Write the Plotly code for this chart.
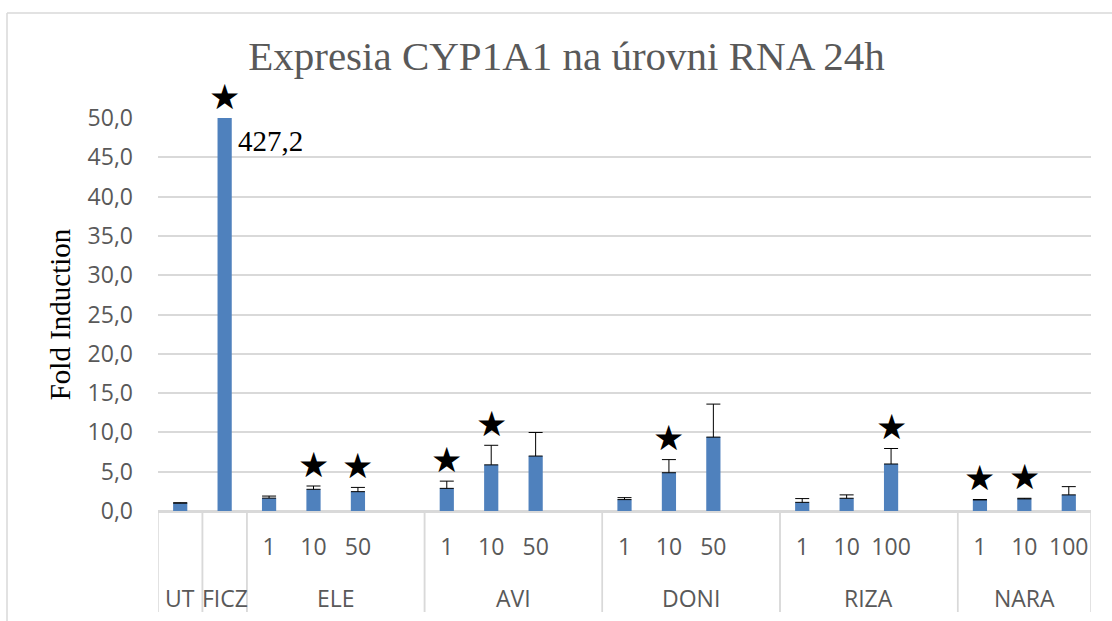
import plotly.graph_objects as go

# ---------------- data ----------------
groups = ["UT", "FICZ", "ELE", "AVI", "DONI", "RIZA", "NARA"]
doses = [[""], [""], ["1", "10", "50", ""], ["1", "10", "50", ""],
         ["1", "10", "50", ""], ["1", "10", "100", ""], ["1", "10", "100"]]
values = [[1.0], [427.2], [1.64, 2.76, 2.46, None], [2.88, 5.87, 6.99, None],
          [1.45, 4.87, 9.40, None], [1.10, 1.62, 5.98, None], [1.41, 1.54, 2.05]]
errors = [[0.05], [0.0], [0.26, 0.42, 0.54, None], [0.92, 2.49, 3.00, None],
          [0.25, 1.67, 4.20, None], [0.48, 0.43, 1.97, None], [0.05, 0.08, 1.05]]
significant = [[False], [True], [False, True, True, False], [True, True, False, False],
               [False, True, False, False], [False, False, True, False], [True, True, False]]
ficz_label = "427,2"
title_text = "Expresia CYP1A1 na úrovni RNA 24h"
y_title = "Fold Induction"

# ---------------- layout constants ----------------
Y_MAX = 50
STAR_OFFSET = 2.6
W, H = 1112, 621
ML, MR, MT, MB = 158, 21, 118, 110
PW, PH = W - ML - MR, H - MT - MB
BLUE = "#4f81bd"
GRID = "#d9d9d9"
GREY_TXT = "#595959"
SANS = "Open Sans"
SERIF = "Liberation Serif"

# flatten
xs, ys, es, labels, stars = [], [], [], [], []
group_bounds = []
i = 0
for g, ds, vs, er, sg in zip(groups, doses, values, errors, significant):
    start = i
    for d, v, e, s in zip(ds, vs, er, sg):
        xs.append(i)
        ys.append(v)
        es.append(e)
        labels.append(d)
        if s:
            top = min((v or 0) + (e or 0), Y_MAX)
            stars.append((i, top + STAR_OFFSET))
        i += 1
    group_bounds.append((g, start - 0.5, i - 0.5))

fig = go.Figure()
fig.add_trace(go.Bar(
    x=xs, y=ys, width=0.32, marker=dict(color=BLUE, line=dict(width=0)),
    error_y=dict(type="data", symmetric=False, array=es,
                 arrayminus=[0] * len(es), color="black", thickness=1, width=7),
    showlegend=False, hoverinfo="skip"))

def py(px_from_top):
    return (H - MB - px_from_top) / PH

def pxx(px):
    return (px - ML) / PW

shapes = []
annotations = []
bottom_div = py(612)
for g, a, b in group_bounds:
    annotations.append(dict(x=(a + b) / 2, y=py(597.5), xref="x", yref="paper",
                            text=g, showarrow=False, yanchor="middle",
                            font=dict(family=SANS, size=23, color=GREY_TXT)))
    for xv in (a, b):
        shapes.append(dict(type="line", xref="x", yref="paper", x0=xv, x1=xv,
                           y0=0, y1=bottom_div, line=dict(color=GRID, width=1.5)))

# significance stars (paper y so that the clipped FICZ star stays visible)
for sx, sy in stars:
    annotations.append(dict(x=sx, y=sy / Y_MAX, xref="x", yref="paper", text="★",
                            showarrow=False, yanchor="middle", xanchor="center",
                            yshift=1,
                            font=dict(family="DejaVu Sans", size=35, color="black")))

# outer chart frame (light border)
shapes.append(dict(type="line", xref="paper", yref="paper", x0=pxx(7), x1=pxx(7),
                   y0=py(13), y1=py(H), line=dict(color=GRID, width=1.5)))
shapes.append(dict(type="line", xref="paper", yref="paper", x0=pxx(7), x1=pxx(W),
                   y0=py(13), y1=py(13), line=dict(color=GRID, width=1.5)))

annotations.append(dict(x=1.25, y=47.1, xref="x", yref="y", text=ficz_label,
                        showarrow=False, xanchor="left", yanchor="middle",
                        font=dict(family=SERIF, size=29, color="black")))

fig.update_layout(
    width=W, height=H,
    margin=dict(l=ML, r=MR, t=MT, b=MB),
    paper_bgcolor="white", plot_bgcolor="white",
    separators=", ",
    title=dict(text=title_text, x=566.5 / W, xref="container", xanchor="center",
               y=1 - 56 / H, yref="container", yanchor="middle",
               font=dict(family=SERIF, size=41, color=GREY_TXT)),
    xaxis=dict(range=[-0.5, len(xs) - 0.5], tickvals=xs, ticktext=labels,
               showgrid=False, zeroline=False, showline=True, linecolor=GRID,
               linewidth=1.5, ticks="", ticklabelstandoff=15,
               tickfont=dict(family=SANS, size=23, color=GREY_TXT)),
    yaxis=dict(range=[0, Y_MAX], dtick=5, tickformat=".1f", showgrid=True,
               gridcolor=GRID, gridwidth=1.5, zeroline=True, zerolinecolor=GRID,
               zerolinewidth=1.5, ticks="", ticklabelstandoff=24,
               tickfont=dict(family=SANS, size=23, color=GREY_TXT),
               title=dict(text=y_title, standoff=8,
                          font=dict(family=SERIF, size=29, color="black"))),
    shapes=shapes, annotations=annotations,
)

fig.write_html("out.html", config={"displayModeBar": False},
               post_script="document.body.style.margin='0px';")
